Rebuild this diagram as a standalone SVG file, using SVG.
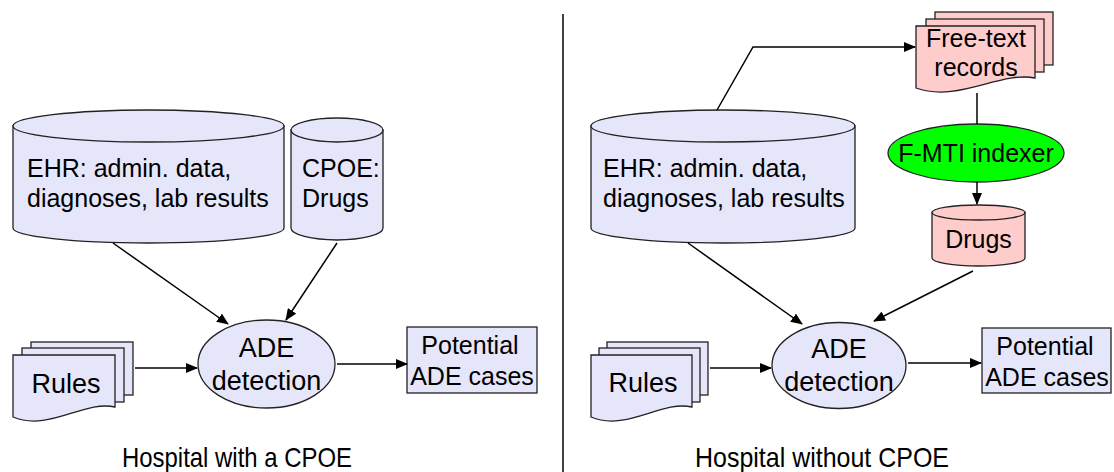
<svg xmlns="http://www.w3.org/2000/svg" width="1114" height="472" viewBox="0 0 1114 472">
<defs>
<marker id="ah" markerUnits="userSpaceOnUse" markerWidth="12" markerHeight="10" refX="11" refY="5" orient="auto">
<path d="M0,0 L12,5 L0,10 Z" fill="#000"/>
</marker>
<style>
.t{font-family:"Liberation Sans",Arial,sans-serif;fill:#000}
.lav{fill:#E6E6FA;stroke:#222;stroke-width:1.3}
.pink{fill:#FFCCCC;stroke:#222;stroke-width:1.3}
.grn{fill:#00FF00;stroke:#222;stroke-width:1.3}
.c{stroke:#000;stroke-width:1.5;fill:none}
.a{stroke:#000;stroke-width:1.5;fill:none;marker-end:url(#ah)}
</style>
</defs>
<rect width="1114" height="472" fill="#fff"/>
<line x1="563" y1="14" x2="563" y2="472" stroke="#000" stroke-width="1.5"/>

<g id="ehr-left">
<path class="lav" d="M13,126 L13,228 A135.5,15 0 0 0 284,228 L284,126 Z"/>
<ellipse class="lav" cx="148.5" cy="126" rx="135.5" ry="16"/>
<text class="t" x="27" y="177" font-size="25">EHR: admin. data,</text>
<text class="t" x="27" y="207" font-size="25">diagnoses, lab results</text>
</g>
<g id="cpoe-left">
<path class="lav" d="M291,130 L291,228 A46,12 0 0 0 383,228 L383,130 Z"/>
<ellipse class="lav" cx="337" cy="130" rx="46" ry="12"/>
<text class="t" x="302" y="177" font-size="25">CPOE:</text>
<text class="t" x="302" y="207" font-size="25">Drugs</text>
</g>
<g id="rules-left">
<rect class="lav" x="31" y="342" width="102" height="53"/>
<rect class="lav" x="22" y="348" width="102" height="54"/>
<path class="lav" d="M13,355 H115 V407 C84,400 49,432 13,417 Z"/>
<text class="t" x="66" y="393" font-size="27" text-anchor="middle">Rules</text>
</g>
<g id="ade-left">
<ellipse class="lav" cx="266.5" cy="364" rx="68.5" ry="44"/>
<text class="t" x="266.5" y="357" font-size="27" text-anchor="middle">ADE</text>
<text class="t" x="266.5" y="390" font-size="27" text-anchor="middle">detection</text>
</g>
<g id="potential-left">
<rect class="lav" x="407" y="327" width="130" height="66"/>
<text class="t" x="470" y="354" font-size="25" text-anchor="middle">Potential</text>
<text class="t" x="472" y="385" font-size="25" text-anchor="middle">ADE cases</text>
</g>
<g id="caption-left">
<text class="t" x="237" y="467" font-size="28" text-anchor="middle" textLength="230" lengthAdjust="spacingAndGlyphs">Hospital with a CPOE</text>
</g>

<g id="ehr-right">
<path class="lav" d="M591,126 L591,228 A132,15 0 0 0 855,228 L855,126 Z"/>
<ellipse class="lav" cx="723" cy="126" rx="132" ry="16"/>
<text class="t" x="603" y="177" font-size="25">EHR: admin. data,</text>
<text class="t" x="603" y="207" font-size="25">diagnoses, lab results</text>
</g>
<g id="freetext">
<rect class="pink" x="935" y="12" width="118" height="53"/>
<rect class="pink" x="926" y="19" width="118" height="53"/>
<path class="pink" d="M916,26 H1035 V78 C1000,71 958,103 916,88 Z"/>
<text class="t" x="976" y="47" font-size="25" text-anchor="middle">Free-text</text>
<text class="t" x="976" y="76" font-size="25" text-anchor="middle">records</text>
</g>
<g id="fmti">
<ellipse class="grn" cx="976" cy="153" rx="88" ry="29"/>
<text class="t" x="976" y="162" font-size="25" text-anchor="middle">F-MTI indexer</text>
</g>
<g id="drugs-right">
<path class="pink" d="M932,212.5 L932,258 A46.5,8 0 0 0 1025,258 L1025,212.5 Z"/>
<ellipse class="pink" cx="978.5" cy="212.5" rx="46.5" ry="7.5"/>
<text class="t" x="978.5" y="248" font-size="25" text-anchor="middle">Drugs</text>
</g>
<g id="rules-right">
<rect class="lav" x="607" y="342" width="101" height="53"/>
<rect class="lav" x="599" y="348" width="101" height="54"/>
<path class="lav" d="M591,355 H692 V407 C661,400 626,432 591,417 Z"/>
<text class="t" x="643" y="392" font-size="27" text-anchor="middle">Rules</text>
</g>
<g id="ade-right">
<ellipse class="lav" cx="839" cy="365.5" rx="67" ry="43"/>
<text class="t" x="839" y="358" font-size="27" text-anchor="middle">ADE</text>
<text class="t" x="839" y="391" font-size="27" text-anchor="middle">detection</text>
</g>
<g id="potential-right">
<rect class="lav" x="982" y="328" width="129" height="65"/>
<text class="t" x="1045" y="355" font-size="25" text-anchor="middle">Potential</text>
<text class="t" x="1047" y="386" font-size="25" text-anchor="middle">ADE cases</text>
</g>
<g id="caption-right">
<text class="t" x="822" y="467" font-size="28" text-anchor="middle" textLength="254" lengthAdjust="spacingAndGlyphs">Hospital without CPOE</text>
</g>

<g id="connectors">
<line class="a" x1="113" y1="243" x2="228" y2="324"/>
<line class="a" x1="337" y1="243" x2="286" y2="320"/>
<line class="a" x1="135" y1="368" x2="197" y2="368"/>
<line class="a" x1="337" y1="364" x2="407" y2="364"/>
<polyline class="a" points="717,110 753,47 915,47"/>
<line class="c" x1="977" y1="93" x2="977" y2="124"/>
<line class="a" x1="977" y1="182" x2="977" y2="204"/>
<line class="a" x1="688" y1="243" x2="802" y2="324"/>
<line class="a" x1="973" y1="271" x2="874" y2="321"/>
<line class="a" x1="710" y1="368" x2="771" y2="368"/>
<line class="a" x1="908" y1="363" x2="981" y2="363"/>
</g>
</svg>
